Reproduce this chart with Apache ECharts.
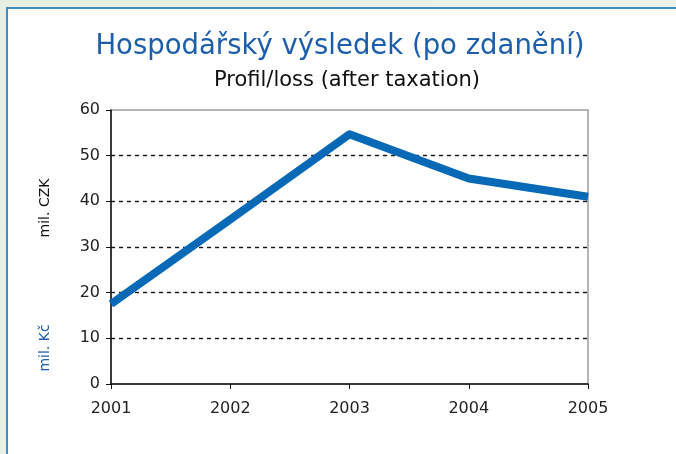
<!DOCTYPE html>
<html><head><meta charset="utf-8">
<script src="https://cdn.jsdelivr.net/npm/echarts@6/dist/echarts.min.js"></script>
<style>html,body{margin:0;padding:0;background:#fff}#c{width:676px;height:454px}</style>
</head><body><div id="c"></div>
<script>
const categories = ['2001','2002','2003','2004','2005'];
const profit = [17.5, 36, 54.7, 45, 41];
const yTicks = [0,10,20,30,40,50,60];

const chart = echarts.init(document.getElementById('c'));
const font = 'DejaVu Sans';
chart.setOption({
  animation: false,
  backgroundColor: {
    type: 'linear', x: 0, y: 0, x2: 1, y2: 1,
    colorStops: [{offset: 0, color: '#e6efe2'}, {offset: 1, color: '#eef3ea'}]
  },
  graphic: [
    {type: 'rect', shape: {x: 7, y: 8, width: 700, height: 480}, style: {fill: '#ffffff', stroke: '#3d8fc2', lineWidth: 2}, z: -10},
    {type: 'text', x: 340, y: 47, style: {text: 'Hospodářský výsledek (po zdanění)', font: '27.5px "DejaVu Sans"', fill: '#1c5eab', align: 'center', verticalAlign: 'middle'}},
    {type: 'text', x: 347, y: 81, style: {text: 'Profil/loss (after taxation)', font: '21px "DejaVu Sans"', fill: '#111', align: 'center', verticalAlign: 'middle'}},
    {type: 'text', x: 45, y: 208, rotation: Math.PI/2, style: {text: 'mil. CZK', font: '14px "DejaVu Sans"', fill: '#111', align: 'center', verticalAlign: 'middle'}},
    {type: 'text', x: 45, y: 348, rotation: Math.PI/2, style: {text: 'mil. Kč', font: '14px "DejaVu Sans"', fill: '#1c5eab', align: 'center', verticalAlign: 'middle'}}
  ],
  grid: {left: 111, right: 88, top: 110, bottom: 70, show: true, borderColor: '#a09c9c', borderWidth: 1.5, backgroundColor: 'transparent'},
  xAxis: {
    type: 'category', data: categories, boundaryGap: false,
    axisLine: {lineStyle: {color: '#111', width: 1.5}},
    axisTick: {show: true, length: 5, lineStyle: {color: '#111'}},
    axisLabel: {color: '#222', fontFamily: font, fontSize: 16, margin: 17},
    splitLine: {show: false}
  },
  yAxis: {
    type: 'value', min: 0, max: 60, interval: 10,
    axisLine: {show: true, lineStyle: {color: '#111', width: 1.5}},
    axisTick: {show: true, length: 5, lineStyle: {color: '#111'}},
    axisLabel: {color: '#222', fontFamily: font, fontSize: 16, margin: 11,
      formatter: v => yTicks.includes(v) ? String(v) : ''},
    splitLine: {show: true, lineStyle: {color: '#111', type: [4, 4], width: 1.4},
      showMinLine: false, showMaxLine: false}
  },
  series: [{
    type: 'line', data: profit, symbol: 'none',
    lineStyle: {color: '#0869b6', width: 8, join: 'round', cap: 'butt'}
  }]
});
</script></body></html>
